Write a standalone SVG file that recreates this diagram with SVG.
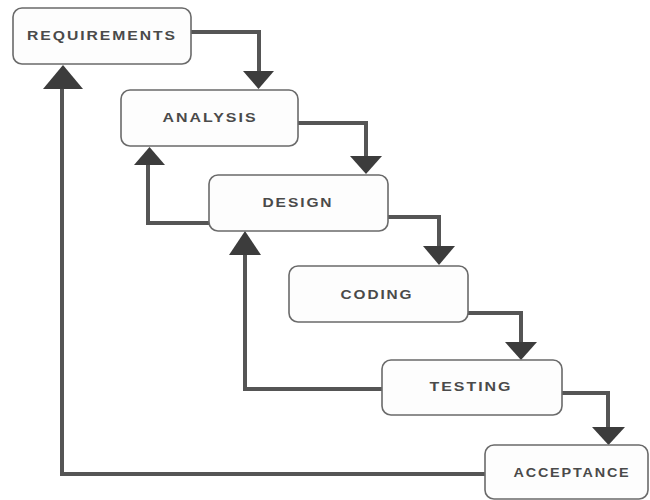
<svg xmlns="http://www.w3.org/2000/svg" width="650" height="500" viewBox="0 0 650 500">
<style>
.box{fill:#fdfdfd;stroke:#6a6a6a;stroke-width:1.6}
.lbl{font-family:"Liberation Sans",Arial,sans-serif;font-weight:bold;font-size:12px;fill:#4a4a4a;text-anchor:middle;letter-spacing:1.5px}
.ln{fill:none;stroke:#555;stroke-width:4;stroke-linejoin:miter}
.hd{fill:#3c3c3c}
</style>
<rect width="650" height="500" fill="#ffffff"/>
<g id="connectors">
<path class="ln" d="M191,32 H259 V74"/>
<polygon class="hd" points="243,71 274,71 258.5,89"/>
<path class="ln" d="M298,123 H366 V158"/>
<polygon class="hd" points="350,156 382,156 366,174"/>
<path class="ln" d="M388,217 H439 V248"/>
<polygon class="hd" points="423,246 455,246 439,265"/>
<path class="ln" d="M468,313 H521 V344"/>
<polygon class="hd" points="505,342 537,342 521,360"/>
<path class="ln" d="M562,393 H608 V429"/>
<polygon class="hd" points="592,427 625,427 608.5,445"/>
<path class="ln" d="M210,223 H148 V162"/>
<polygon class="hd" points="134,165 165,165 149.5,147"/>
<path class="ln" d="M382,389 H245 V252"/>
<polygon class="hd" points="229,255 261,255 245,231"/>
<path class="ln" d="M485,474 H62 V86"/>
<polygon class="hd" points="43,89 83,89 63,65"/>
</g>
<g id="requirements">
<rect class="box" x="13" y="8" width="178" height="56" rx="9"/>
<text class="lbl" x="102" y="40" textLength="150" lengthAdjust="spacingAndGlyphs">REQUIREMENTS</text>
</g>
<g id="analysis">
<rect class="box" x="121" y="90" width="177" height="56" rx="9"/>
<text class="lbl" x="210" y="122" textLength="95" lengthAdjust="spacingAndGlyphs">ANALYSIS</text>
</g>
<g id="design">
<rect class="box" x="209" y="175" width="179" height="56" rx="9"/>
<text class="lbl" x="298" y="207" textLength="71" lengthAdjust="spacingAndGlyphs">DESIGN</text>
</g>
<g id="coding">
<rect class="box" x="289" y="266" width="179" height="56" rx="9"/>
<text class="lbl" x="377" y="299" textLength="73" lengthAdjust="spacingAndGlyphs">CODING</text>
</g>
<g id="testing">
<rect class="box" x="382" y="360" width="180" height="55" rx="9"/>
<text class="lbl" x="471" y="391" textLength="83" lengthAdjust="spacingAndGlyphs">TESTING</text>
</g>
<g id="acceptance">
<rect class="box" x="485" y="445" width="163" height="54" rx="9"/>
<text class="lbl" x="572" y="477" textLength="117" lengthAdjust="spacingAndGlyphs">ACCEPTANCE</text>
</g>
</svg>
